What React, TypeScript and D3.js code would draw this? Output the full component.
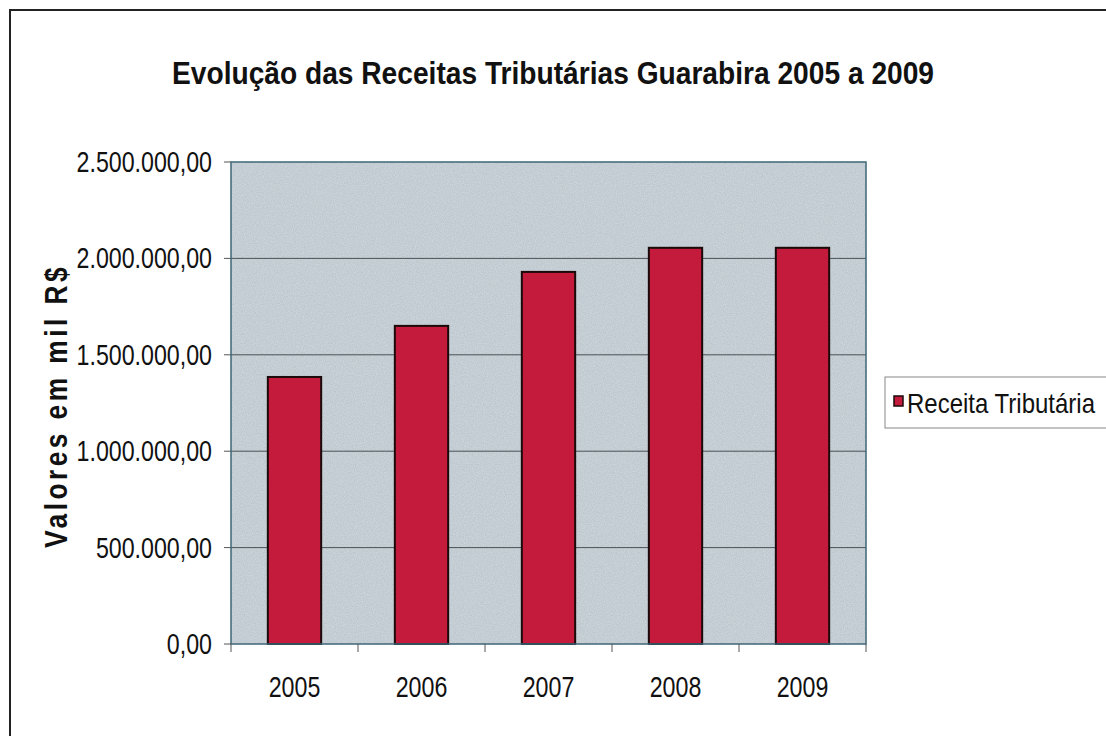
import React from "react";
import * as d3 from "d3";

const years = ["2005", "2006", "2007", "2008", "2009"];
const receita = [1385000, 1650000, 1930000, 2055000, 2055000];
const yTicks = [0, 500000, 1000000, 1500000, 2000000, 2500000];
const titleText = "Evolução das Receitas Tributárias Guarabira 2005 a 2009";
const yTitle = "Valores em mil R$";
const seriesName = "Receita Tributária";

const W = 1106;
const H = 736;
const plot = { left: 231, top: 162, right: 866, bottom: 644 };
const FONT = "'Liberation Sans', Arial, sans-serif";
const NARROW = 0.8;

const fmt = (v: number) => {
  const s = d3.format(",.2f")(v);
  return s.replace(/,/g, "#").replace(/\./g, ",").replace(/#/g, ".");
};

function NText({ x, y, anchor = "start", size = 29, weight = "normal", children }: any) {
  return (
    <g transform={`translate(${x},${y}) scale(${NARROW},1)`}>
      <text x={0} y={0} textAnchor={anchor} fontSize={size} fontWeight={weight} fontFamily={FONT} fill="#111">
        {children}
      </text>
    </g>
  );
}

export default function App() {
  const x = d3.scaleBand().domain(years).range([plot.left, plot.right]).paddingInner(0.58).paddingOuter(0.29);
  const xCat = d3.scaleBand().domain(years).range([plot.left, plot.right]);
  const y = d3.scaleLinear().domain([0, 2500000]).range([plot.bottom, plot.top]);

  return (
    <svg width={W} height={H} style={{ position: "absolute", left: 0, top: 0 }}>
      <defs>
        <filter id="grain" x="0" y="0" width="100%" height="100%">
          <feTurbulence type="fractalNoise" baseFrequency="0.9" numOctaves="2" seed="3" result="n" />
          <feColorMatrix type="matrix" values="0 0 0 0 1  0 0 0 0 1  0 0 0 0 1  0 0 0 0.45 -0.08" in="n" result="w" />
          <feComposite in="w" in2="SourceGraphic" operator="in" />
        </filter>
      </defs>
      <rect x={0} y={0} width={W} height={H} fill="#fff" />
      <rect x={10} y={10} width={1120} height={760} fill="none" stroke="#222" strokeWidth={2} />

      <text x={553} y={84} textAnchor="middle" fontSize={32} fontWeight="bold" fontFamily={FONT} fill="#111"
        textLength={762} lengthAdjust="spacingAndGlyphs">
        {titleText}
      </text>

      {/* plot area */}
      <rect x={plot.left} y={plot.top} width={plot.right - plot.left} height={plot.bottom - plot.top} fill="#bac5cc" />
      <rect x={plot.left} y={plot.top} width={plot.right - plot.left} height={plot.bottom - plot.top} fill="#bac5cc" filter="url(#grain)" />

      {yTicks.map((t) => (
        <g key={t}>
          {t > 0 && t < 2500000 && (
            <line x1={plot.left} x2={plot.right} y1={y(t)} y2={y(t)} stroke="#4b5257" strokeWidth={1} />
          )}
          <line x1={plot.left - 7} x2={plot.left} y1={y(t)} y2={y(t)} stroke="#555" strokeWidth={1} />
          <NText x={plot.left - 19} y={y(t) + 10} anchor="end">{fmt(t)}</NText>
        </g>
      ))}

      {years.map((yr, i) => (
        <rect key={yr} x={x(yr)} y={y(receita[i])} width={x.bandwidth()} height={plot.bottom - y(receita[i])}
          fill="#c41a3b" stroke="#1a0a0a" strokeWidth={2} />
      ))}

      <rect x={plot.left} y={plot.top} width={plot.right - plot.left} height={plot.bottom - plot.top} fill="none" stroke="#3f6677" strokeWidth={1.5} />

      {years.map((yr) => (
        <line key={"t" + yr} x1={xCat(yr)} x2={xCat(yr)} y1={plot.bottom} y2={plot.bottom + 8} stroke="#555" />
      ))}
      <line x1={plot.right} x2={plot.right} y1={plot.bottom} y2={plot.bottom + 8} stroke="#555" />

      {years.map((yr) => (
        <NText key={"l" + yr} x={(xCat(yr) as number) + xCat.bandwidth() / 2} y={697} anchor="middle">{yr}</NText>
      ))}

      <text transform={`translate(67,406) rotate(-90)`} textAnchor="middle" fontSize={31} fontWeight="bold"
        fontFamily={FONT} fill="#111" letterSpacing={4} textLength={284} lengthAdjust="spacingAndGlyphs">
        {yTitle}
      </text>

      {/* legend */}
      <rect x={885} y={377} width={240} height={51} fill="#fff" stroke="#888" strokeWidth={1} />
      <rect x={894} y={396} width={9} height={10} fill="#c41a3b" stroke="#1a0a0a" strokeWidth={1.5} />
      <text x={907} y={413} fontSize={28} fontFamily={FONT} fill="#111" textLength={188} lengthAdjust="spacingAndGlyphs">
        {seriesName}
      </text>
    </svg>
  );
}
